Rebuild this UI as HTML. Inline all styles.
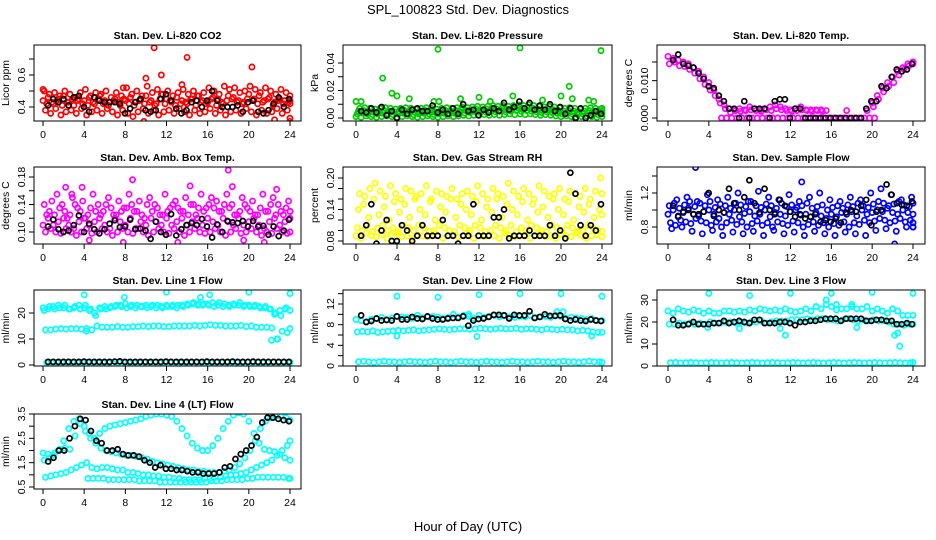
<!DOCTYPE html>
<html><head><meta charset="utf-8"><style>
html,body{margin:0;padding:0;background:#fff;}
svg{display:block;font-family:"Liberation Sans",sans-serif;}
</style></head><body>
<svg id="chart" width="936" height="540" viewBox="0 0 936 540" xmlns="http://www.w3.org/2000/svg">
<rect width="936" height="540" fill="#fff"/>
<text x="468" y="14" text-anchor="middle" font-size="13">SPL_100823  Std. Dev. Diagnostics</text>
<text x="468" y="531" text-anchor="middle" font-size="13">Hour of Day (UTC)</text>
</svg>
<script>
// ---------- data ----------
const xTicks = [0,4,8,12,16,20,24];
const co2Mid = [0.44,0.46,0.42,0.45,0.47,0.43,0.41,0.45,0.44,0.46,0.42,0.47,0.44,0.43,0.45,0.41,0.44,0.46,0.43,0.45,0.47,0.44,0.42,0.48,0.45,0.43,0.46,0.44,0.42,0.45,0.47,0.44,0.43,0.46,0.45,0.42,0.47,0.46,0.44,0.43,0.48,0.45,0.47,0.44,0.46,0.43,0.45,0.44,0.42];
const co2Hi = [0.50,0.48,0.49,0.47,0.50,0.48,0.46,0.49,0.51,0.47,0.49,0.48,0.50,0.46,0.49,0.47,0.52,0.48,0.50,0.47,0.53,0.49,0.51,0.48,0.50,0.47,0.49,0.51,0.48,0.50,0.47,0.49,0.52,0.50,0.48,0.53,0.51,0.52,0.49,0.50,0.53,0.51,0.49,0.52,0.50,0.48,0.51,0.49,0.47];
const co2Lo = [0.38,0.36,0.39,0.35,0.37,0.38,0.36,0.39,0.35,0.37,0.38,0.36,0.39,0.37,0.35,0.38,0.36,0.34,0.37,0.39,0.36,0.38,0.35,0.37,0.38,0.36,0.39,0.37,0.35,0.38,0.36,0.37,0.39,0.36,0.38,0.35,0.37,0.38,0.36,0.39,0.37,0.35,0.38,0.36,0.37,0.39,0.36,0.38,0.33];
const co2Mid2 = [0.42,0.43,0.44,0.41,0.43,0.45,0.44,0.42,0.41,0.43,0.45,0.42,0.41,0.44,0.43,0.45,0.42,0.41,0.44,0.42,0.43,0.41,0.45,0.42,0.44,0.41,0.42,0.43,0.45,0.41,0.43,0.42,0.45,0.41,0.43,0.44,0.45,0.43,0.42,0.45,0.44,0.42,0.43,0.45,0.41,0.44,0.42,0.43,0.44];
const co2OutH = [0,7.8,10.8,14,11.5,10,20.3,13.5,9.8,24,22.5];
const co2OutV = [0.51,0.52,0.77,0.71,0.60,0.58,0.65,0.54,0.31,0.31,0.32];
const co2Mean = [0.41,0.45,0.43,0.45,0.41,0.46,0.47,0.40,0.37,0.46,0.44,0.43,0.43,0.43,0.42,0.36,0.39,0.43,0.45,0.38,0.37,0.38,0.45,0.48,0.44,0.39,0.36,0.38,0.43,0.44,0.40,0.44,0.50,0.44,0.40,0.40,0.40,0.41,0.37,0.43,0.44,0.37,0.36,0.38,0.42,0.46,0.40,0.45];

const pLo = [0.001,0.0005,0.0015,0.001,0.0005,0.001,0.0015,0.001,0.0005,0.001,0.0015,0.001,0.0005,0.001,0.0015,0.001,0.0005,0.001,0.0015,0.001,0.0015,0.002,0.0015,0.002,0.002,0.0025,0.002,0.0025,0.002,0.0025,0.003,0.0025,0.003,0.0025,0.003,0.0025,0.002,0.0025,0.002,0.0015,0.001,0.0015,0.001,0.0005,0.001,0.0015,0.001,0.0005,0.001];
const pM1 = [0.003,0.0035,0.003,0.0025,0.003,0.0035,0.003,0.0025,0.003,0.0035,0.003,0.0025,0.003,0.0035,0.003,0.0025,0.003,0.0035,0.003,0.0035,0.004,0.0035,0.004,0.0045,0.004,0.0045,0.005,0.0045,0.005,0.0045,0.005,0.0055,0.005,0.0055,0.005,0.0045,0.004,0.0045,0.004,0.0035,0.003,0.0035,0.003,0.0025,0.003,0.0035,0.003,0.0025,0.003];
const pM2 = [0.005,0.0055,0.005,0.0045,0.005,0.0055,0.005,0.0045,0.005,0.0055,0.005,0.0045,0.005,0.0055,0.005,0.0045,0.005,0.0055,0.005,0.0055,0.006,0.0055,0.006,0.0065,0.006,0.0065,0.007,0.0065,0.007,0.0065,0.007,0.0075,0.007,0.0075,0.007,0.0065,0.006,0.0065,0.006,0.0055,0.005,0.0055,0.005,0.0045,0.005,0.0055,0.005,0.0045,0.005];
const pHi = [0.007,0.0075,0.007,0.0065,0.007,0.0075,0.007,0.0065,0.007,0.0075,0.007,0.0065,0.007,0.0075,0.007,0.0065,0.007,0.0075,0.007,0.0075,0.008,0.0075,0.008,0.0085,0.008,0.0085,0.009,0.0085,0.009,0.0085,0.009,0.0095,0.009,0.0095,0.009,0.0085,0.008,0.0085,0.008,0.0075,0.007,0.0075,0.007,0.0065,0.007,0.0075,0.007,0.0065,0.007];
const pOutH = [0,0.5,2.6,3.5,4,5.2,7.6,8,8.1,10.2,12,13.1,15.3,16,18.2,20,20.8,21.1,22.7,23.2,23.9];
const pOutV = [0.012,0.012,0.029,0.018,0.016,0.014,0.012,0.050,0.012,0.014,0.015,0.012,0.016,0.051,0.013,0.016,0.023,0.014,0.013,0.012,0.049];
const pMean = [0.005,0.004,0.007,0.004,0.008,0.002,0.005,0.000,0.006,0.003,0.006,0.007,0.005,0.005,0.009,0.004,0.006,0.003,0.007,0.003,0.010,0.005,0.006,0.002,0.006,0.004,0.007,0.005,0.011,0.006,0.008,0.012,0.007,0.011,0.006,0.009,0.006,0.010,0.005,0.008,0.003,0.007,0.000,0.007,0.000,0.002,0.005,0.003];

const tUpper = [0.0165,0.016,0.0155,0.015,0.0145,0.0135,0.0125,0.011,0.0095,0.0075,0.005,0.0035,0.0025,0.0022,0.0025,0.0022,0.003,0.0025,0.0022,0.0025,0.003,0.0035,0.003,0.0025,0.0022,0.0025,0.003,0.0022,0.0022,0.0022,0.0022,0.002,null,null,null,0.002,null,null,null,0.002,0.004,0.006,0.008,0.0095,0.011,0.0125,0.0135,0.0145,0.015];
const tLower = [0.0145,0.015,0.014,0.0138,0.013,0.012,0.0105,0.009,0.0075,0.006,0.004,0.0025,0.0015,0.002,0.0018,0.002,0.0022,0.002,0.0018,0.0022,0.002,0.0025,0.0022,0.002,0.0018,0.002,0.0022,0.002,0.0018,0.002,0.0018,null,null,null,null,null,null,null,null,null,0.003,0.005,0.007,0.0085,0.0095,0.0115,0.013,0.014,0.0145];
const tZero = [null,null,null,null,null,null,null,null,null,null,0,0,0,0,0,0,0,0,0,0,0,0,0,0,0,0,0,0,0,0,0,0,0,0,0,0,0,0,0,0,0,null,null,null,null,null,null,null,null];
const tMean = [0.0155,0.017,0.0145,0.0140,0.0135,0.0120,0.0105,0.0085,0.0080,0.0060,0.0045,0.0025,0.0025,0.0000,0.0045,0.0000,0.0025,0.0025,0.0025,0.0000,0.0045,0.0050,0.0050,0.0000,0.0025,0.0025,0.0000,0.0000,0.0000,0.0000,0.0000,0.0000,0.0000,0.0000,0.0000,0.0000,0.0000,0.0000,0.0025,0.0045,0.0045,0.0085,0.0080,0.0110,0.0130,0.0125,0.0130,0.0145];

const ambA = [0.11,0.12,0.11,0.115,0.12,0.11,0.105,0.115,0.12,0.11,0.115,0.12,0.11,0.105,0.12,0.115,0.11,0.12,0.105,0.115,0.11,0.12,0.115,0.11,0.12,0.11,0.115,0.12,0.11,0.115,0.12,0.11,0.12,0.115,0.11,0.12,0.115,0.11,0.12,0.11,0.115,0.12,0.11,0.105,0.115,0.12,0.11,0.115,0.12];
const ambB = [0.14,0.13,0.125,0.135,0.13,0.125,0.14,0.13,0.12,0.135,0.13,0.125,0.14,0.135,0.125,0.13,0.135,0.14,0.13,0.125,0.14,0.13,0.135,0.125,0.13,0.14,0.135,0.13,0.125,0.14,0.135,0.13,0.14,0.135,0.13,0.14,0.135,0.125,0.13,0.14,0.13,0.125,0.135,0.13,0.14,0.125,0.13,0.135,0.13];
const ambC = [0.10,0.105,0.10,0.098,0.105,0.10,0.095,0.10,0.105,0.098,0.10,0.105,0.10,0.095,0.10,0.105,0.10,0.098,0.105,0.10,0.095,0.10,0.105,0.10,0.098,0.105,0.10,0.095,0.10,0.105,0.10,0.098,0.10,0.105,0.10,0.095,0.10,0.105,0.098,0.10,0.105,0.10,0.095,0.10,0.098,0.105,0.10,0.098,0.10];
const ambD = [0.125,0.145,0.155,0.14,0.12,0.15,0.135,0.145,0.125,0.155,0.14,0.13,0.15,0.125,0.145,0.135,0.155,0.13,0.145,0.12,0.15,0.14,0.125,0.155,0.135,0.145,0.13,0.15,0.14,0.125,0.155,0.135,0.15,0.145,0.13,0.155,0.14,0.125,0.15,0.135,0.145,0.125,0.155,0.13,0.15,0.14,0.125,0.145,0.13];
const ambOutH = [2.2,2.8,3.8,8.7,14.3,18,18.4,22.7,4.5,7.8,21.5,13.1,19.5];
const ambOutV = [0.165,0.155,0.165,0.176,0.167,0.190,0.166,0.162,0.088,0.085,0.085,0.085,0.088];
const ambMean = [0.108,0.118,0.104,0.100,0.102,0.110,0.124,0.100,0.112,0.104,0.098,0.104,0.112,0.117,0.107,0.108,0.118,0.104,0.105,0.102,0.090,0.115,0.100,0.096,0.126,0.095,0.104,0.110,0.113,0.110,0.119,0.108,0.092,0.111,0.100,0.116,0.114,0.113,0.116,0.108,0.116,0.108,0.109,0.096,0.108,0.094,0.102,0.118];

const rhA = [0.09,0.085,0.095,0.09,0.088,0.092,0.085,0.09,0.095,0.088,0.09,0.085,0.092,0.09,0.088,0.095,0.09,0.085,0.09,0.092,0.088,0.09,0.095,0.085,0.09,0.088,0.092,0.09,0.085,0.095,0.09,0.088,0.09,0.092,0.085,0.09,0.095,0.088,0.09,0.085,0.092,0.09,0.088,0.095,0.09,0.085,0.09,0.092,0.088];
const rhB = [0.105,0.10,0.11,0.098,0.105,0.11,0.10,0.105,0.098,0.11,0.105,0.10,0.11,0.105,0.098,0.10,0.11,0.105,0.10,0.098,0.11,0.105,0.10,0.11,0.105,0.098,0.10,0.11,0.105,0.10,0.11,0.098,0.105,0.10,0.11,0.105,0.10,0.098,0.11,0.105,0.10,0.11,0.105,0.098,0.10,0.11,0.105,0.10,0.098];
const rhC = [0.14,0.15,0.125,0.16,0.13,0.145,0.12,0.155,0.135,0.15,0.125,0.16,0.14,0.13,0.155,0.12,0.145,0.135,0.16,0.125,0.15,0.14,0.13,0.155,0.12,0.145,0.135,0.16,0.125,0.15,0.14,0.13,0.155,0.12,0.15,0.135,0.145,0.125,0.16,0.14,0.13,0.155,0.12,0.145,0.135,0.15,0.125,0.14,0.13];
const rhD = [0.17,0.165,0.18,0.19,0.175,0.165,0.185,0.17,0.16,0.18,0.175,0.165,0.17,0.185,0.16,0.175,0.17,0.165,0.18,0.16,0.17,0.175,0.165,0.185,0.17,0.16,0.18,0.17,0.165,0.19,0.175,0.165,0.18,0.17,0.16,0.185,0.175,0.165,0.17,0.18,0.16,0.175,0.17,0.165,0.18,0.16,0.175,0.20,0.17];
const rhMean = [0.09,0.11,0.15,0.075,0.10,0.12,0.08,0.08,0.11,0.10,0.08,0.09,0.11,0.09,0.09,0.09,0.12,0.09,0.09,0.075,0.09,0.09,0.15,0.09,0.09,0.09,0.125,0.125,0.14,0.085,0.09,0.09,0.09,0.10,0.09,0.09,0.09,0.11,0.09,0.10,0.085,0.21,0.17,0.11,0.09,0.11,0.10,0.15];

const sfA = [0.95,1.0,0.92,0.97,1.02,0.95,0.93,0.98,1.0,0.95,0.9,0.97,0.95,1.0,0.92,0.96,0.98,0.93,0.95,1.0,0.92,0.97,0.95,0.93,0.98,1.0,0.94,0.95,0.92,0.97,0.93,0.9,0.95,0.92,0.97,0.95,0.98,0.93,1.0,0.95,0.97,1.0,0.98,1.02,0.97,0.95,1.0,0.97,0.95];
const sfB = [1.05,1.08,1.02,1.06,1.1,1.04,1.08,1.05,1.1,1.03,1.07,1.05,1.02,1.08,1.06,1.04,1.1,1.05,1.03,1.07,1.05,1.02,1.08,1.04,1.06,1.03,1.05,1.08,1.02,1.04,1.06,1.0,1.03,1.05,1.02,1.06,1.04,1.08,1.05,1.03,1.07,1.1,1.08,1.05,1.07,1.1,1.06,1.04,1.08];
const sfC = [0.85,0.82,0.88,0.86,0.84,0.9,0.87,0.85,0.82,0.86,0.8,0.85,0.88,0.83,0.86,0.8,0.84,0.87,0.82,0.85,0.8,0.86,0.84,0.82,0.87,0.85,0.8,0.83,0.86,0.82,0.85,0.8,0.84,0.82,0.86,0.8,0.85,0.83,0.88,0.85,0.87,0.9,0.88,0.85,0.87,0.9,0.86,0.88,0.85];
const sfD = [0.78,1.12,0.8,1.15,0.75,1.1,0.72,1.18,0.76,1.12,0.7,1.15,0.74,1.2,0.72,1.1,0.75,1.22,0.7,1.15,0.76,1.12,0.72,1.18,0.74,1.1,0.7,1.15,0.75,1.2,0.72,1.12,0.7,1.1,0.74,1.15,0.72,1.12,0.7,1.2,0.76,1.25,0.78,1.18,0.75,1.12,0.8,1.15,0.8];
const sfOutH = [2.7,13.1,22.2,24];
const sfOutV = [1.50,1.33,0.60,0.80];
const sfMean = [1.05,0.93,0.98,1.0,0.95,0.95,0.98,1.2,0.93,1.0,0.97,1.25,1.08,1.0,1.15,1.35,1.08,0.97,1.25,1.0,0.95,1.12,1.05,0.98,0.92,0.95,0.90,0.92,0.95,0.86,0.88,0.86,0.90,0.85,0.97,1.0,0.98,1.05,1.12,0.82,0.98,1.0,1.30,1.18,1.08,1.06,1.05,1.10];

const l1Hi = [22,21.5,22.5,23,22,21.5,22,23,22,21,20,22,22.5,22,22.5,23,23.5,22.5,22,22.5,23,22.5,22,22.5,23,22.5,22,23,23.5,23.5,23,23,23.5,24,23,22.5,23,23.5,23,22.5,23,22.5,22.5,22,21.5,19.5,21,21.5,21];
const l1Hi2 = [21,22.5,21.5,22,23,21.5,22.5,21.5,23,21.5,19,21.5,21.5,22.5,23,22.5,22,23,23,22.5,22,23,23,22,22.5,23,23,22.5,23,24,23.5,23.5,23,22.5,24,23.5,22.5,23,24,23,22.5,23,22,22.5,21.5,20,19,22,21];
const l1Mid = [13.5,13.5,13.8,14,13.8,14,14,13.8,14,13.5,15,14.5,14.5,14.5,14.8,14.5,14.5,14.8,14.8,15,14.8,15,15,14.8,14.8,15,15,15,15,15.2,15,15.2,15.5,15.2,15.2,15,15,15,15.2,14.8,15,14.5,14.5,14.5,14.2,10,13,12.5,14];
const l1Low = [1.0,1.1,0.9,1.0,1.1,1.0,0.9,1.0,1.1,1.0,1.0,0.9,1.0,0.5,1.1,1.0,1.0,0.9,1.0,1.1,1.0,1.0,0.9,1.0,1.1,1.0,1.0,0.9,1.0,1.1,1.0,1.0,0.9,1.0,1.1,1.0,1.0,0.9,1.0,1.1,1.0,1.0,0.9,1.0,1.1,1.0,1.0,0.9,1.0];
const l1OutH = [4,7.9,12,15.3,16.2,20,24,22.2,22.8,4.2];
const l1OutV = [27,26,28,26,27,28,27.5,9.5,10,13];
const l1Mean = [1.2,1.2,1.2,1.2,1.2,1.2,1.2,1.3,1.2,1.2,1.2,1.2,1.2,1.3,1.4,1.2,1.2,1.2,1.2,1.2,1.2,1.2,1.2,1.3,1.2,1.2,1.2,1.2,1.2,1.2,1.2,1.3,1.2,1.2,1.2,1.2,1.3,1.2,1.2,1.2,1.3,1.2,1.2,1.2,1.2,1.2,1.2,1.2];

const l2Hi = [9,8.8,8.6,9,9.2,9.4,9,9.3,9.6,9.5,9.4,9.2,9.8,9.3,9.5,9.6,9.5,9.2,9.4,10,9.5,9.8,9.6,9.2,9.8,9.4,9.6,9.8,9.5,9.8,9.5,9.4,9.6,9.5,9.8,9.4,9.5,9.6,9.4,9.8,9.6,9.2,9.4,9.3,9.2,9,9.2,8.8,8.8];
const l2Mid = [6.6,6.7,6.6,6.8,6.5,6.6,6.7,6.8,6.9,6.8,6.9,7,6.8,6.9,7,7.1,7.2,7.1,7,7.1,7.2,7.2,7.1,7.2,7.3,7.2,7.1,7.2,7.3,7.2,7.2,7.3,7.1,7.2,7.2,7.1,7.0,7.2,7.1,7,7.1,7,7,6.8,6.9,6.8,6.6,6.5,6.5];
const l2Low = [0.8,0.9,0.8,0.7,0.8,0.9,0.8,0.8,0.7,0.8,0.9,0.8,0.8,0.7,0.8,0.9,0.8,0.8,0.7,0.8,0.9,0.8,0.8,0.7,0.8,0.9,0.8,0.8,0.7,0.8,0.9,0.8,0.8,0.7,0.8,0.9,0.8,0.8,0.7,0.8,0.9,0.8,0.8,0.7,0.8,0.9,0.8,0.8,0.7];
const l2OutH = [4,8,12,16,20,24,4,11.8,23,11,19.6,20.2];
const l2OutV = [13.5,13.3,13.8,14,14,13.5,5.8,5.7,5.8,10,10.5,10.5];
const l2Mean = [9.8,8.5,8.7,9.2,8.8,8.9,8.8,9.6,9.0,9.0,9.5,9.2,9.1,9.6,9.2,9.0,9.0,9.2,9.3,9.3,9.6,7.8,8.8,9.1,9.2,9.5,9.9,9.9,9.8,9.2,9.9,9.8,9.8,10.6,9.3,9.5,10,9.7,9.7,9.8,9.1,8.8,9.0,8.8,8.7,9.0,8.8,8.7];

const l3Hi = [25,24,26,25,24.5,25.5,25,24,25,24,24,25,25,24.5,25,24.5,25.5,25,26,25.5,25,25.5,25,26,25,24.5,25,26,25,27,26,28,27,25.5,26,26,27,26,26,27,25,26,25,24,26,25,23,23,23];
const l3Mid = [19,19,19.5,19,19.5,19,19.5,19,20,19.5,19.5,20,20,19.5,20,19.5,20,20,20.5,19.5,20,20.5,20.5,20.5,21,21,21,21.5,21,21.5,21.5,21,21,20.5,21,21.5,21,20.5,21,20.5,21,20.5,20.5,20,19,19,18.5,19,19];
const l3Low = [1.5,1.6,1.4,1.5,1.6,1.5,1.4,1.5,1.6,1.5,1.4,1.5,1.6,1.5,1.4,1.5,1.6,1.5,1.4,1.5,1.6,1.5,1.4,1.5,1.6,1.5,1.4,1.5,1.6,1.5,1.4,1.5,1.6,1.5,1.4,1.5,1.6,1.5,1.4,1.5,1.6,1.5,1.4,1.5,1.6,1.5,1.4,1.5,1.6];
const l3OutH = [4,8,12,16,20,24,3.9,7,11,11.5,18.5,22.2,22.5,22.7,15.5,16.5,18,14.5];
const l3OutV = [33,32,33,33,33.5,33,17.5,17,17,14,17.5,14,15,9,30,28,28,27];
const l3Mean = [21,18.5,18.5,19,20,19,19,19,19.5,19.5,20.5,19.5,20,20.5,20,19.5,21,21,19.5,19.5,19.5,20,20,19.5,18.5,20,20,20.5,20.5,21,21.5,21.5,21.5,20.5,21.5,21.5,21.5,21.5,20.5,20.5,21,21,20.5,20.5,19,19,19.5,19];

const l4A = [1.9,1.85,1.8,2.0,2.4,2.9,3.2,3.3,3.0,2.7,2.5,2.7,2.9,3.0,3.05,3.1,3.15,3.2,3.25,3.3,3.4,3.45,3.5,3.5,3.45,3.4,3.2,2.9,2.6,2.3,2.1,2.0,2.0,2.2,2.5,2.9,3.2,3.45,3.55,3.5,3.2,2.7,2.3,2.05,2.0,1.95,1.85,1.7,1.6];
const l4B = [1.6,1.7,1.9,2.05,2.1,2.05,2.6,3.1,2.8,2.5,2.3,2.1,2.0,1.95,1.9,1.85,1.8,1.8,1.75,1.7,1.65,1.55,1.5,1.45,1.4,1.35,1.3,1.25,1.2,1.2,1.15,1.15,1.1,1.1,1.1,1.15,1.2,1.3,1.45,1.7,2.0,2.4,2.9,3.2,3.35,3.4,3.4,3.35,3.25];
const l4C = [0.9,0.95,1.0,1.05,1.1,1.2,1.3,1.4,1.5,1.3,1.25,1.3,1.3,1.25,1.2,1.2,1.1,1.1,1.05,1.0,1.0,0.95,0.95,0.9,0.9,0.85,0.85,0.8,0.8,0.8,0.8,0.85,0.85,0.9,0.9,0.95,1.0,1.0,1.05,1.1,1.2,1.3,1.4,1.5,1.6,1.8,2.0,2.2,2.4];
const l4D = [null,null,null,null,null,null,null,null,0.85,0.85,0.85,0.85,0.8,0.8,0.8,0.8,0.8,0.8,0.75,0.75,0.75,0.75,0.7,0.7,0.7,0.7,0.7,0.7,0.7,0.7,0.7,0.7,0.75,0.75,0.75,0.8,0.8,0.8,0.8,0.85,0.85,0.9,0.9,0.9,0.9,0.9,0.9,0.85,0.85];
const l4Mean = [1.55,1.7,2.0,2.0,2.5,3.0,3.3,3.25,2.8,2.4,2.3,2.0,2.0,2.05,1.85,1.8,1.8,1.75,1.6,1.5,1.3,1.4,1.25,1.25,1.2,1.2,1.15,1.1,1.1,1.05,1.05,1.05,1.1,1.3,1.35,1.65,1.85,2.0,2.2,2.55,3.15,3.35,3.35,3.3,3.25,3.2];

// ---------- layout ----------
const cols = [{l:34,r:301,x0:43,x24:290},{l:343,r:612,x0:356,x24:602},{l:657,r:925,x0:668,x24:913}];
const rows = [{t:45,b:121},{t:167,b:244},{t:290,b:366},{t:414,b:489}];

const panels = [
 {name:'co2',title:'Stan. Dev. Li-820 CO2',ylab:'Licor ppm',c:0,r:0,ref:[0.4,107,0.6,75],ticks:[0.4,0.5,0.6,0.7],labs:['0.4','','0.6',''],color:'#ff0000',
  series:[co2Mid,co2Hi,co2Lo,co2Mid2],outH:co2OutH,outV:co2OutV,mean:co2Mean},
 {name:'pressure',title:'Stan. Dev. Li-820 Pressure',ylab:'kPa',c:1,r:0,ref:[0,118,0.04,63],ticks:[0,0.01,0.02,0.03,0.04],labs:['0.00','','0.02','','0.04'],color:'#00cc00',
  series:[pLo,pM1,pM2,pHi],outH:pOutH,outV:pOutV,mean:pMean},
 {name:'li820-temp',title:'Stan. Dev. Li-820 Temp.',ylab:'degrees C',c:2,r:0,ref:[0,118,0.015,62],ticks:[0,0.005,0.01,0.015],labs:['0.000','','0.010',''],color:'#ff00ff',
  series:[tUpper,tLower,tZero],outH:[],outV:[],mean:tMean},
 {name:'amb-box-temp',title:'Stan. Dev. Amb. Box Temp.',ylab:'degrees C',c:0,r:1,ref:[0.10,232,0.18,177],ticks:[0.10,0.12,0.14,0.16,0.18],labs:['0.10','','0.14','','0.18'],color:'#ff00ff',
  series:[ambA,ambB,ambC,ambD],outH:ambOutH,outV:ambOutV,mean:ambMean},
 {name:'gas-stream-rh',title:'Stan. Dev. Gas Stream RH',ylab:'percent',c:1,r:1,ref:[0.08,241,0.20,178],ticks:[0.08,0.10,0.12,0.14,0.16,0.18,0.20],labs:['0.08','','','0.14','','','0.20'],color:'#ffff00',
  series:[rhA,rhB,rhC,rhD],outH:[],outV:[],mean:rhMean},
 {name:'sample-flow',title:'Stan. Dev. Sample Flow',ylab:'ml/min',c:2,r:1,ref:[0.8,227,1.2,193],ticks:[0.8,1.0,1.2,1.4],labs:['0.8','','1.2',''],color:'#0000ff',
  series:[sfA,sfB,sfC,sfD],outH:sfOutH,outV:sfOutV,mean:sfMean},
 {name:'line1-flow',title:'Stan. Dev. Line 1 Flow',ylab:'ml/min',c:0,r:2,ref:[0,365,20,313],ticks:[0,10,20],labs:['0','10','20'],color:'#00ffff',
  series:[l1Hi,l1Hi2,l1Mid,l1Low],outH:l1OutH,outV:l1OutV,mean:l1Mean},
 {name:'line2-flow',title:'Stan. Dev. Line 2 Flow',ylab:'ml/min',c:1,r:2,ref:[0,366,12,304],ticks:[0,2,4,6,8,10,12,14],labs:['0','','4','','8','','12',''],color:'#00ffff',
  series:[l2Hi,l2Mid,l2Low],outH:l2OutH,outV:l2OutV,mean:l2Mean},
 {name:'line3-flow',title:'Stan. Dev. Line 3 Flow',ylab:'ml/min',c:2,r:2,ref:[0,366,30,300],ticks:[0,10,20,30],labs:['0','10','20','30'],color:'#00ffff',
  series:[l3Hi,l3Mid,l3Low],outH:l3OutH,outV:l3OutV,mean:l3Mean},
 {name:'line4-flow',title:'Stan. Dev. Line 4 (LT) Flow',ylab:'ml/min',c:0,r:3,ref:[0.5,487,3.5,414],ticks:[0.5,1,1.5,2,2.5,3,3.5],labs:['0.5','','1.5','','2.5','','3.5'],color:'#00ffff',
  series:[l4A,l4B,l4C,l4D],outH:[],outV:[],mean:l4Mean}
];

const svg = document.getElementById('chart');
const NS = 'http://www.w3.org/2000/svg';
function mk(tag, attrs, parent){
  const e = document.createElementNS(NS, tag);
  for (const k in attrs) e.setAttribute(k, attrs[k]);
  parent.appendChild(e);
  return e;
}

panels.forEach(p => {
  const C = cols[p.c], R = rows[p.r];
  const xs = h => C.x0 + (C.x24 - C.x0) * h / 24;
  const ys = v => p.ref[1] + (v - p.ref[0]) * (p.ref[3] - p.ref[1]) / (p.ref[2] - p.ref[0]);
  const g = mk('g', {}, svg);
  
  

  const t = mk('text', {x:(C.l+C.r)/2, y:R.t-6, 'text-anchor':'middle', 'font-size':'10.5', 'font-weight':'bold'}, g);
  t.textContent = p.title;
  
  

  const yl = mk('text', {x:0, y:0, 'text-anchor':'middle', 'font-size':'10.5', transform:`translate(${C.l-25},${(R.t+R.b)/2}) rotate(-90)`}, g);
  yl.textContent = p.ylab;
  
  

  const clipId = 'clip-' + p.name;
  const cp = mk('clipPath', {id:clipId}, g);
  mk('rect', {x:C.l, y:R.t, width:C.r-C.l, height:R.b-R.t}, cp);
  const pts = mk('g', {'clip-path':`url(#${clipId})`, fill:'none'}, g);
  
  

  p.series.forEach((s, si) => {
    const off = si * 0.12;
    s.forEach((v, i) => {
      if (v === null) return;
      const h = Math.min(24, i * 24 / (s.length - 1) + off);
      const c = mk('circle', {cx:xs(h), cy:ys(v), r:2.6, stroke:p.color, 'stroke-width':1.7}, pts);
      
      
    });
  });
  p.outH.forEach((h, i) => {
    const c = mk('circle', {cx:xs(h), cy:ys(p.outV[i]), r:2.6, stroke:p.color, 'stroke-width':1.7}, pts);
    
    
  });
  p.mean.forEach((v, i) => {
    const h = 0.5 + i * 23.4 / (p.mean.length - 1);
    const c = mk('circle', {cx:xs(h), cy:ys(v), r:2.5, stroke:'#000', 'stroke-width':1.7}, pts);
    
    
  });

  const box = mk('rect', {x:C.l, y:R.t, width:C.r-C.l, height:R.b-R.t, fill:'none', stroke:'#000', 'stroke-width':1}, g);
  
  

  const xa = mk('g', {'font-size':'10.5', 'text-anchor':'middle'}, g);
  
  
  mk('line', {x1:xs(0), x2:xs(24), y1:R.b, y2:R.b, stroke:'#000'}, xa);
  xTicks.forEach(tv => {
    mk('line', {x1:xs(tv), x2:xs(tv), y1:R.b, y2:R.b+5, stroke:'#000'}, xa);
    const tl = mk('text', {x:xs(tv), y:R.b+17}, xa);
    tl.textContent = tv;
    
    
  });

  const ya = mk('g', {'font-size':'10.5', 'text-anchor':'middle'}, g);
  
  
  mk('line', {x1:C.l, x2:C.l, y1:ys(p.ticks[0]), y2:ys(p.ticks[p.ticks.length-1]), stroke:'#000'}, ya);
  p.ticks.forEach((tv, i) => {
    const yy = ys(tv);
    mk('line', {x1:C.l-5, x2:C.l, y1:yy, y2:yy, stroke:'#000'}, ya);
    if (p.labs[i]) {
      const tl = mk('text', {x:0, y:0, transform:`translate(${C.l-9},${yy}) rotate(-90)`}, ya);
      tl.textContent = p.labs[i];
      
      
    }
  });
});
</script>
</body></html>
